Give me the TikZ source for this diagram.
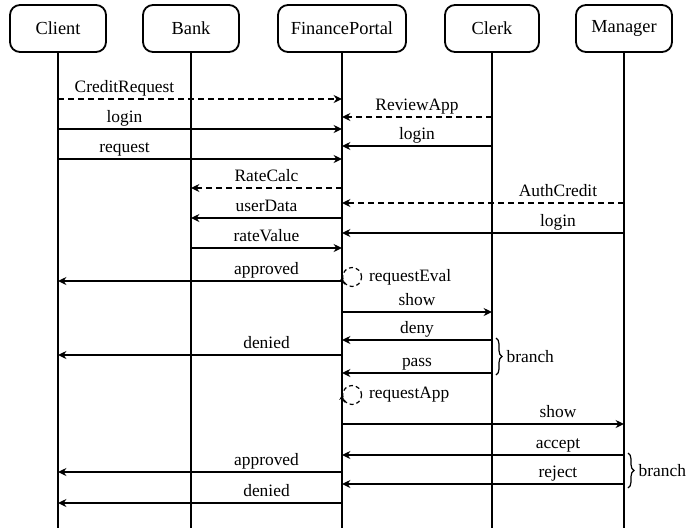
\documentclass[tikz,border=0pt]{standalone}
\usepackage{fontspec}
\setmainfont{Liberation Serif}
\usetikzlibrary{calc,arrows.meta,positioning,decorations.pathreplacing}

\begin{document}
\begin{tikzpicture}[x=0.5pt, y=-0.5pt, line width=0.9pt,
    every node/.style={font=\fontsize{8.7}{10}\selectfont, inner sep=0pt},
    actor/.style={draw, rounded corners=5pt, minimum height=23.5pt, font=\fontsize{9.2}{11}\selectfont},
    msg/.style={-{Stealth[length=4.2pt, width=4pt]}},
    async/.style={msg, dash pattern=on 3pt off 2pt},
    lbl/.style={anchor=base},
    callmark/.style={draw, circle, dash pattern=on 2pt off 1.5pt, line width=0.6pt, minimum size=9.5pt},
    calltip/.style={line width=0.6pt, -{Stealth[length=2.5pt, width=2.5pt]}},
    branch/.style={decorate, decoration={brace, amplitude=3pt}}]
    \useasboundingbox (0,0) rectangle (686,531);

    \node[actor, minimum width=48pt] (client) at (58,28.5) {Client};
    \node[actor, minimum width=48pt] (bank) at (191,28.5) {Bank};
    \node[actor, minimum width=64pt] (portal) at (342,28.5) {FinancePortal};
    \node[actor, minimum width=47pt] (clerk) at (492,28.5) {Clerk};
    \node[actor, minimum width=48pt] (manager) at (624,28.5) {Manager};

    \coordinate (bottom) at (0,528);
    \draw (client.south) -- (client |- bottom);
    \draw (bank.south) -- (bank |- bottom);
    \draw (portal.south) -- (portal |- bottom);
    \draw (clerk.south) -- (clerk |- bottom);
    \draw (manager.south) -- (manager |- bottom);

    \coordinate (cb) at ($(client)!.5!(bank)$);
    \coordinate (bp) at ($(bank)!.5!(portal)$);
    \coordinate (pk) at ($(portal)!.5!(clerk)$);
    \coordinate (km) at ($(clerk)!.5!(manager)$);

    \draw[async] (client |- 0,99) -- (portal |- 0,99) node[lbl] (m1) at (cb |- 0,92) {CreditRequest};
    \draw[async] (clerk |- 0,117) -- (portal |- 0,117) node[lbl] (m2) at (pk |- 0,110) {ReviewApp};
    \draw[msg] (client |- 0,129) -- (portal |- 0,129) node[lbl] (m3) at (cb |- 0,122) {login};
    \draw[msg] (clerk |- 0,146) -- (portal |- 0,146) node[lbl] (m4) at (pk |- 0,139) {login};
    \draw[msg] (client |- 0,159) -- (portal |- 0,159) node[lbl] (m5) at (cb |- 0,152) {request};
    \draw[async] (portal |- 0,188) -- (bank |- 0,188) node[lbl] (m6) at (bp |- 0,181) {RateCalc};
    \draw[async] (manager |- 0,203) -- (portal |- 0,203) node[lbl] (m7) at (km |- 0,196) {AuthCredit};
    \draw[msg] (portal |- 0,218) -- (bank |- 0,218) node[lbl] (m8) at (bp |- 0,211) {userData};
    \draw[msg] (manager |- 0,233) -- (portal |- 0,233) node[lbl] (m9) at (km |- 0,226) {login};
    \draw[msg] (bank |- 0,248) -- (portal |- 0,248) node[lbl] (m10) at (bp |- 0,241) {rateValue};
    \draw[msg] (portal |- 0,281) -- (client |- 0,281) node[lbl] (m11) at (bp |- 0,274) {approved};

    \coordinate (e1) at (portal |- 0,277);
    \node[callmark, right=0pt of e1] (eval) {};
    \draw[calltip] (eval.south west) to[bend left=25] (eval.west);
    \node[right=3pt of eval] (evall) {requestEval};

    \draw[msg] (portal |- 0,312) -- (clerk |- 0,312) node[lbl] (m12) at (pk |- 0,305) {show};
    \draw[msg] (clerk |- 0,340) -- (portal |- 0,340) node[lbl] (m13) at (pk |- 0,333) {deny};
    \draw[msg] (portal |- 0,355) -- (client |- 0,355) node[lbl] (m14) at (bp |- 0,348) {denied};
    \draw[msg] (clerk |- 0,373) -- (portal |- 0,373) node[lbl] (m15) at (pk |- 0,366) {pass};
    \draw[branch, line width=0.6pt] ($(clerk |- 0,338)+(4,0)$) -- ($(clerk |- 0,375)+(4,0)$) node[midway, right=5pt] (b1) {branch};

    \coordinate (e2) at (portal |- 0,395);
    \node[callmark, right=0pt of e2] (app) {};
    \draw[calltip] (app.south west) to[bend left=25] (app.west);
    \node[right=3pt of app] (appl) {requestApp};

    \draw[msg] (portal |- 0,424) -- (manager |- 0,424) node[lbl] (m16) at (km |- 0,417) {show};
    \draw[msg] (manager |- 0,455) -- (portal |- 0,455) node[lbl] (m17) at (km |- 0,448) {accept};
    \draw[msg] (portal |- 0,472) -- (client |- 0,472) node[lbl] (m18) at (bp |- 0,465) {approved};
    \draw[msg] (manager |- 0,484) -- (portal |- 0,484) node[lbl] (m19) at (km |- 0,477) {reject};
    \draw[msg] (portal |- 0,503) -- (client |- 0,503) node[lbl] (m20) at (bp |- 0,496) {denied};
    \draw[branch, line width=0.6pt] ($(manager |- 0,453)+(4,0)$) -- ($(manager |- 0,488)+(4,0)$) node[midway, right=5pt] (b2) {branch};
  \end{tikzpicture}
\end{document}
